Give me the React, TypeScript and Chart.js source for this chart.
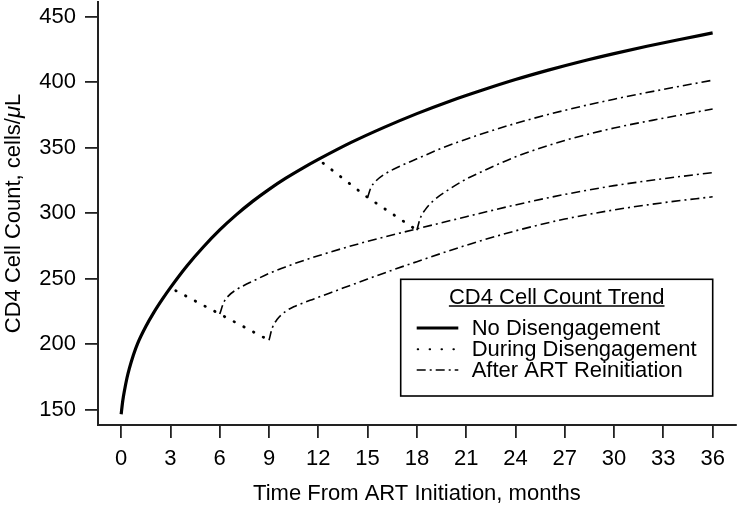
import React, { useEffect, useRef } from "react";
import { Chart, registerables } from "chart.js";

Chart.register(...registerables);

const FONT = '"Liberation Sans", Arial, Helvetica, sans-serif';

// ---- data ----
const xTicks = [0, 3, 6, 9, 12, 15, 18, 21, 24, 27, 30, 33, 36];
const yTicks = [150, 200, 250, 300, 350, 400, 450];

const noDisT = [0, 0.05, 0.1, 0.2, 0.35, 0.5, 0.75, 1, 1.5, 2, 2.5, 3, 4, 5, 6, 7, 8, 9, 10, 11, 12, 14, 16, 18, 20, 22, 24, 26, 28, 30, 32, 34, 36];
const noDisV = [146.5, 152, 157, 164.5, 174, 181.5, 192, 200.5, 213.5, 224.5, 234.2, 243.2, 259.7, 274.2, 287.2, 298.7, 309, 318.2, 326.5, 334, 341, 354, 365.5, 376, 385.5, 394, 402, 409.2, 415.8, 421.8, 427.4, 432.6, 437.6];

const during1T = [3, 6, 9];
const during1V = [243, 223, 203];
const during2T = [12, 15, 18];
const during2V = [341, 312, 287];

const after6T = [6, 6.25, 6.5, 7, 7.5, 8, 9, 10, 12, 15, 18, 21, 24, 27, 30, 33, 36];
const after6V = [223, 232, 236.5, 241.5, 245, 248, 254, 259, 267.5, 278.5, 288, 297.3, 306.3, 314.3, 321, 326.3, 331];

const after9T = [9, 9.2, 9.5, 10, 10.5, 11.5, 12, 13.5, 15, 16.5, 18, 21, 24, 27, 30, 33, 36];
const after9V = [203, 212.5, 219, 225, 228.5, 233.5, 235.8, 242.8, 249.7, 256.5, 263, 275.5, 286.5, 295.5, 302.5, 308, 312.5];

const after15T = [15, 15.2, 15.5, 16, 17, 18, 19.5, 21, 24, 27, 30, 33, 36];
const after15V = [312, 319.5, 324.5, 329.5, 336, 341.5, 349.5, 356.5, 368.5, 378.5, 387, 394.5, 401.5];

const after18T = [18, 18.2, 18.5, 19, 20, 21, 22, 24, 27, 30, 33, 36];
const after18V = [287, 296, 302.5, 309.5, 318.5, 326, 332, 343, 355.5, 365, 372.5, 379.5];

const xTitle = "Time From ART Initiation, months";
const yTitleA = "CD4 Cell Count, cells/";
const yTitleMu = "\u03bc";
const yTitleB = "L";
const legendTitle = "CD4 Cell Count Trend";
const legendLabels = ["No Disengagement", "During Disengagement", "After ART Reinitiation"];

const pts = (t: number[], v: number[]) => t.map((x, i) => ({ x, y: v[i] }));

const DASHDOT = [9, 4, 2, 4];
const DOTS = [0.5, 10.5];

const overlay = {
  id: "overlay",
  afterDraw(chart: any) {
    const ctx: CanvasRenderingContext2D = chart.ctx;
    const ca = chart.chartArea;
    ctx.save();
    ctx.fillStyle = "#000";
    ctx.textBaseline = "alphabetic";

    // x title
    ctx.font = `22px ${FONT}`;
    ctx.textAlign = "center";
    ctx.fillText(xTitle, (ca.left + ca.right) / 2, 500);

    // y title (rotated), with italic mu
    ctx.save();
    ctx.translate(19.5, (ca.top + ca.bottom) / 2);
    ctx.rotate(-Math.PI / 2);
    ctx.textAlign = "left";
    const normal = `22px ${FONT}`;
    const italic = `italic 22px ${FONT}`;
    ctx.font = normal;
    const wA = ctx.measureText(yTitleA).width;
    const wB = ctx.measureText(yTitleB).width;
    ctx.font = italic;
    const wMu = ctx.measureText(yTitleMu).width;
    let x0 = -(wA + wMu + wB) / 2;
    ctx.font = normal;
    ctx.fillText(yTitleA, x0, 0);
    x0 += wA;
    ctx.font = italic;
    ctx.fillText(yTitleMu, x0, 0);
    x0 += wMu;
    ctx.font = normal;
    ctx.fillText(yTitleB, x0, 0);
    ctx.restore();

    // legend box
    const bx = 400.7, by = 279.3, bw = 312, bh = 116.7;
    ctx.fillStyle = "#fff";
    ctx.fillRect(bx, by, bw, bh);
    ctx.strokeStyle = "#000";
    ctx.lineWidth = 1.6;
    ctx.setLineDash([]);
    ctx.strokeRect(bx, by, bw, bh);

    ctx.fillStyle = "#000";
    ctx.font = `22px ${FONT}`;
    ctx.textAlign = "center";
    const tcx = bx + bw / 2;
    ctx.fillText(legendTitle, tcx, 303.5);
    const tw = ctx.measureText(legendTitle).width;
    ctx.lineWidth = 1.4;
    ctx.beginPath();
    ctx.moveTo(tcx - tw / 2, 306);
    ctx.lineTo(tcx + tw / 2, 306);
    ctx.stroke();

    const rowsY = [328, 349.3, 370];
    const sx0 = 416.7, sx1 = 458.3;
    // solid
    ctx.lineWidth = 3;
    ctx.lineCap = "butt";
    ctx.beginPath();
    ctx.moveTo(sx0, rowsY[0]);
    ctx.lineTo(sx1, rowsY[0]);
    ctx.stroke();
    // dotted
    ctx.lineWidth = 2;
    ctx.lineCap = "round";
    ctx.setLineDash([0.5, 11.4]);
    ctx.beginPath();
    ctx.moveTo(sx0 + 1, rowsY[1]);
    ctx.lineTo(sx1, rowsY[1]);
    ctx.stroke();
    // dash-dot
    ctx.lineWidth = 1.5;
    ctx.lineCap = "butt";
    ctx.setLineDash(DASHDOT);
    ctx.beginPath();
    ctx.moveTo(sx0, rowsY[2]);
    ctx.lineTo(sx1, rowsY[2]);
    ctx.stroke();
    ctx.setLineDash([]);

    ctx.textAlign = "left";
    ctx.textBaseline = "middle";
    legendLabels.forEach((lab, i) => {
      ctx.fillText(lab, 471.7, rowsY[i] + 1);
    });
    ctx.restore();
  },
};

export default function App() {
  const ref = useRef<HTMLCanvasElement | null>(null);

  useEffect(() => {
    if (!ref.current) return;
    const solid = (data: any) => ({
      data,
      borderColor: "#000",
      borderWidth: 3.2,
      pointRadius: 0,
      cubicInterpolationMode: "monotone",
      fill: false,
    });
    const dotted = (data: any) => ({
      data,
      borderColor: "#000",
      borderWidth: 2.8,
      borderDash: DOTS,
      borderDashOffset: 5,
      borderCapStyle: "round",
      pointRadius: 0,
      tension: 0,
      fill: false,
    });
    const dashdot = (data: any) => ({
      data,
      borderColor: "#000",
      borderWidth: 1.6,
      borderDash: DASHDOT,
      pointRadius: 0,
      cubicInterpolationMode: "monotone",
      fill: false,
    });

    const chart = new Chart(ref.current, {
      type: "line",
      data: {
        datasets: [
          solid(pts(noDisT, noDisV)),
          dotted(pts(during1T, during1V)),
          dotted(pts(during2T, during2V)),
          dashdot(pts(after6T, after6V)),
          dashdot(pts(after9T, after9V)),
          dashdot(pts(after15T, after15V)),
          dashdot(pts(after18T, after18V)),
        ] as any,
      },
      options: {
        animation: false,
        responsive: false,
        maintainAspectRatio: false,
        layout: { padding: { top: 2, right: 1.7, left: 0, bottom: 0 } },
        plugins: { legend: { display: false }, tooltip: { enabled: false } },
        scales: {
          x: {
            type: "linear",
            min: -1.44,
            max: 37.44,
            afterBuildTicks: (s: any) => {
              s.ticks = xTicks.map((v) => ({ value: v }));
            },
            afterFit: (s: any) => {
              s.height = 82;
              s.paddingLeft = 0;
              s.paddingRight = 0;
              s.paddingTop = 0;
              s.paddingBottom = 0;
            },
            grid: {
              display: true,
              drawOnChartArea: false,
              drawTicks: true,
              tickLength: 13,
              color: "#222",
              lineWidth: 1.8,
            },
            border: { display: true, color: "#222", width: 2 },
            ticks: {
              color: "#000",
              font: { family: FONT, size: 22 },
              padding: 8,
              maxRotation: 0,
              autoSkip: false,
            },
          },
          y: {
            type: "linear",
            min: 138.3,
            max: 461.2,
            afterBuildTicks: (s: any) => {
              s.ticks = yTicks.map((v) => ({ value: v }));
            },
            afterFit: (s: any) => {
              s.width = 97.5;
              s.paddingLeft = 0;
              s.paddingRight = 0;
              s.paddingTop = 0;
              s.paddingBottom = 0;
            },
            grid: {
              display: true,
              drawOnChartArea: false,
              drawTicks: true,
              tickLength: 12.5,
              color: "#222",
              lineWidth: 1.8,
            },
            border: { display: true, color: "#222", width: 2 },
            ticks: {
              color: "#000",
              font: { family: FONT, size: 22 },
              padding: 9,
              autoSkip: false,
            },
          },
        },
      } as any,
      plugins: [overlay],
    });
    return () => chart.destroy();
  }, []);

  return (
    <div style={{ position: "absolute", left: 0, top: 0, width: 738, height: 507, background: "#fff" }}>
      <canvas ref={ref} width={738} height={507} style={{ display: "block" }} />
    </div>
  );
}
